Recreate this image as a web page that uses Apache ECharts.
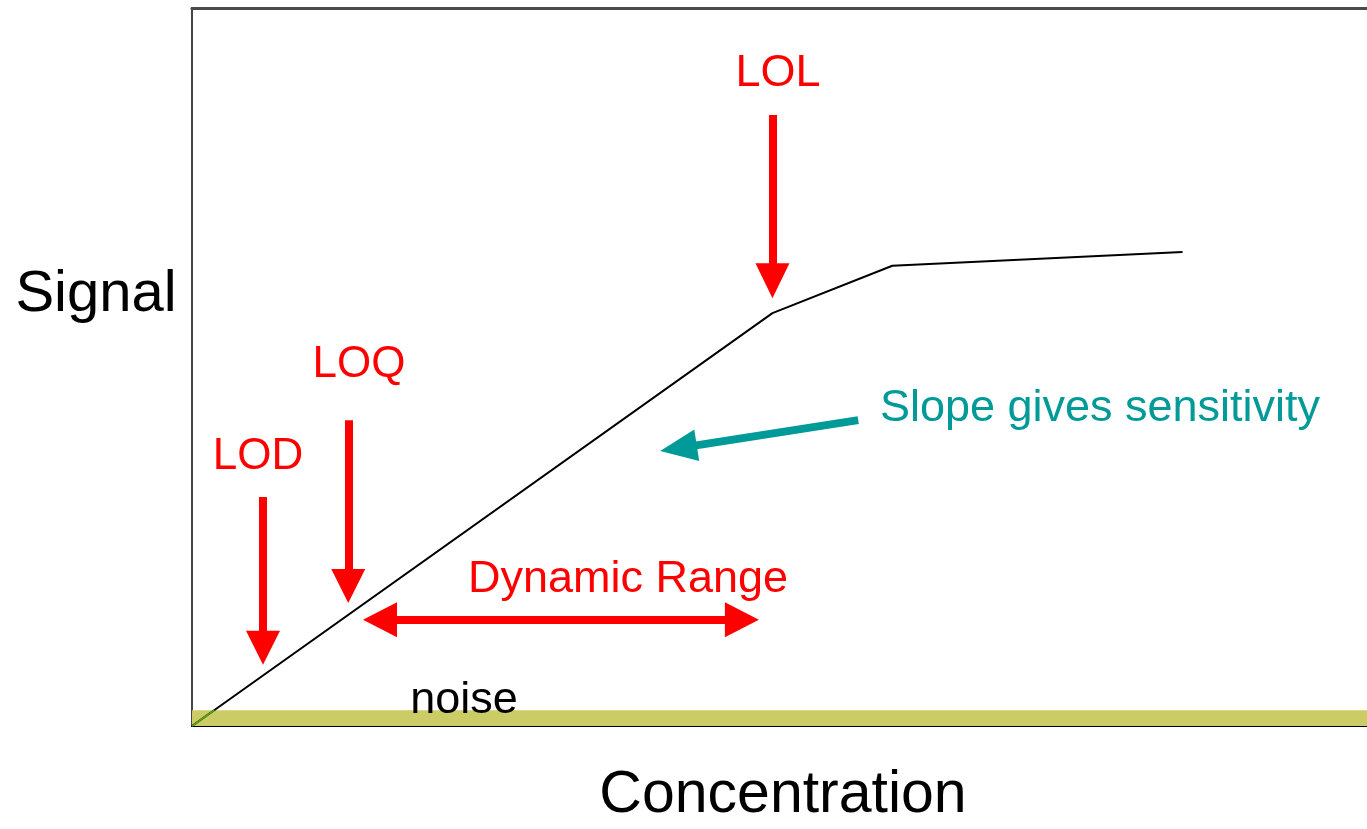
<!DOCTYPE html>
<html>
<head>
<meta charset="utf-8">
<script src="https://cdn.jsdelivr.net/npm/echarts@6/dist/echarts.min.js"></script>
<style>
  html, body { margin: 0; padding: 0; background: #fff; }
  #chart { width: 1367px; height: 829px; }
</style>
</head>
<body>
<div id="chart"></div>
<script>
// calibration curve (concentration, signal), axes run 0..100
const curveX = [0, 49.4, 59.6, 84.3]
const curveY = [0, 57.5, 64.1, 66.0]
// part of the curve inside the noise band
const noiseCurveX = [0, 1.9]
const noiseCurveY = [0, 2.2]
// noise band height
const noiseTop = 2.2
// arrows: [x1, y1, x2, y2]
const lodArrow = [6.04, 31.9, 6.04, 10.9]
const loqArrow = [13.3, 42.6, 13.3, 19.5]
const lolArrow = [49.4, 85.1, 49.4, 62.0]
const rangeArrow = [16.0, 14.8, 46.8, 14.8]
const slopeArrow = [56.7, 42.6, 41.4, 38.7]

const RED = '#ff0000'
const TEAL = '#009a98'
const FONT = '"Liberation Sans", Arial, sans-serif'

const chart = echarts.init(document.getElementById('chart'))

const arrow = (a, color, head, both) => [
    { coord: [a[0], a[1]], symbol: both ? 'triangle' : 'none', symbolSize: head,
      lineStyle: { color: color, width: 8, type: 'solid' }, itemStyle: { color: color } },
    { coord: [a[2], a[3]], symbol: 'triangle', symbolSize: head }
]

const txt = (text, x, y, size, color) => ({
    type: 'text', x: x, y: y, z: 100,
    style: { text: text, fill: color, font: size + 'px ' + FONT, textAlign: 'center', textVerticalAlign: 'middle' }
})

const hideAxis = { axisTick: { show: false }, axisLabel: { show: false }, splitLine: { show: false } }

let option = {
    animation: false,
    grid: { left: 192, top: 8, right: 0, bottom: 103 },
    xAxis: [
        Object.assign({ type: 'value', min: 0, max: 100,
          axisLine: { show: true, onZero: false, lineStyle: { color: '#000', width: 2 } } }, hideAxis),
        Object.assign({ type: 'value', position: 'top', min: 0, max: 100,
          axisLine: { show: true, onZero: false, lineStyle: { color: '#4a4a4a', width: 3 } } }, hideAxis)
    ],
    yAxis: Object.assign({ type: 'value', min: 0, max: 100,
        axisLine: { show: true, onZero: false, lineStyle: { color: '#444', width: 2 } } }, hideAxis),
    series: [
        {
            type: 'line',
            data: curveX.map((x, i) => [x, curveY[i]]),
            symbol: 'none',
            lineStyle: { width: 2, color: '#000' },
            z: 5,
            markArea: {
                silent: true,
                itemStyle: { color: '#cccc66' },
                data: [[{ yAxis: 0 }, { yAxis: noiseTop }]]
            }
        },
        {
            type: 'line',
            data: noiseCurveX.map((x, i) => [x, noiseCurveY[i]]),
            symbol: 'none',
            lineStyle: { width: 2, color: '#5c9e1e' },
            z: 6
        },
        {
            type: 'line',
            data: [],
            z: 7,
            markLine: {
                silent: true,
                animation: false,
                label: { show: false },
                data: [
                    arrow(lodArrow, RED, [34, 34]),
                    arrow(loqArrow, RED, [34, 34]),
                    arrow(lolArrow, RED, [34, 35]),
                    arrow(rangeArrow, RED, [35, 34], true),
                    arrow(slopeArrow, TEAL, [32, 37])
                ]
            }
        }
    ],
    graphic: [
        txt('LOL', 778, 74, 45, RED),
        txt('LOQ', 359, 365, 44, RED),
        txt('LOD', 258, 457, 44, RED),
        txt('Dynamic Range', 628, 580, 45, RED),
        txt('Slope gives sensitivity', 1100, 409, 45, TEAL),
        txt('noise', 464, 701, 45, '#000'),
        txt('Signal', 96, 295, 58, '#000'),
        txt('Concentration', 783, 796, 59, '#000')
    ]
}
chart.setOption(option)
</script>
</body>
</html>
